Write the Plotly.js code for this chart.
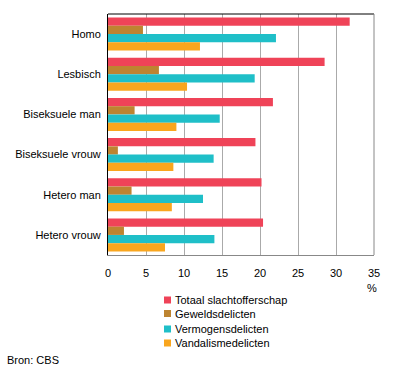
<!DOCTYPE html>
<html>
<head>
<meta charset="utf-8">
<script src="https://cdn.plot.ly/plotly-3.0.1.min.js"></script>
<style>html,body{margin:0;padding:0;background:#fff;}#chart{width:396px;height:373px;}</style>
</head>
<body>
<div id="chart"></div>
<script>
const categories = ["Homo", "Lesbisch", "Biseksuele man", "Biseksuele vrouw", "Hetero man", "Hetero vrouw"];
const seriesNames = ["Totaal slachtofferschap", "Geweldsdelicten", "Vermogensdelicten", "Vandalismedelicten"];
const totaal = [31.8, 28.5, 21.7, 19.4, 20.2, 20.4];
const geweld = [4.6, 6.7, 3.5, 1.3, 3.1, 2.1];
const vermogen = [22.1, 19.3, 14.7, 13.9, 12.5, 14.0];
const vandalisme = [12.1, 10.4, 9.0, 8.6, 8.4, 7.5];
const xTicks = [0, 5, 10, 15, 20, 25, 30, 35];
const colors = ["#EF4358", "#BD8431", "#1FBFC8", "#F9A61E"];

const values = [totaal, geweld, vermogen, vandalisme];
const traces = values.map((v, i) => ({
  type: "bar",
  orientation: "h",
  y: categories,
  x: v,
  name: seriesNames[i],
  marker: {color: colors[i], line: {width: 0}},
  hoverinfo: "x+name"
}));

// plot area in pixels
const L = 108, T = 14, W = 266, H = 241;
const px = x => (x - L) / W;
const py = y => (T + H - y) / H;

// custom legend (small squares + text)
const legendRows = [300, 313.5, 329, 343];
const shapes = [
  {type: "line", xref: "paper", yref: "paper", x0: 0, x1: 1, y0: 1, y1: 1, line: {color: "#000", width: 1}},
  {type: "line", xref: "paper", yref: "paper", x0: 1, x1: 1, y0: 0, y1: 1, line: {color: "#888888", width: 1}}
];
const annotations = [
  {text: "%", xref: "paper", yref: "paper", x: px(372), y: py(288), xanchor: "center", yanchor: "middle", showarrow: false, font: {size: 11}},
  {text: "Bron: CBS", xref: "paper", yref: "paper", x: px(5), y: py(360), xanchor: "left", yanchor: "middle", showarrow: false, font: {size: 11}}
];
seriesNames.forEach((n, i) => {
  const yc = legendRows[i];
  shapes.push({type: "rect", xref: "paper", yref: "paper", x0: px(164), x1: px(171), y0: py(yc - 3.5), y1: py(yc + 3.5),
               fillcolor: colors[i], line: {width: 0}});
  annotations.push({text: n, xref: "paper", yref: "paper", x: px(173), y: py(yc), xanchor: "left", yanchor: "middle",
                    showarrow: false, font: {size: 11}});
});

const layout = {
  width: 396, height: 373,
  margin: {l: L, r: 396 - L - W, t: T, b: 373 - T - H, autoexpand: false},
  paper_bgcolor: "#fff", plot_bgcolor: "#fff",
  font: {family: "Liberation Sans, Arial, sans-serif", size: 11, color: "#000"},
  barmode: "group",
  bargap: 0.18,
  bargroupgap: 0,
  showlegend: false,
  xaxis: {range: [0, 35], tickvals: xTicks, ticktext: xTicks.map(String), showgrid: true,
          gridcolor: "#aaaaaa", gridwidth: 1, showline: true, linecolor: "#888888", linewidth: 1,
          zeroline: false, ticks: "", ticklabelstandoff: 8, fixedrange: true},
  yaxis: {autorange: "reversed", showline: true, linecolor: "#000", linewidth: 1, ticks: "",
          showgrid: false, ticklabelstandoff: 4, fixedrange: true},
  shapes: shapes,
  annotations: annotations
};

Plotly.newPlot("chart", traces, layout, {displayModeBar: false, staticPlot: true});
</script>
</body>
</html>
